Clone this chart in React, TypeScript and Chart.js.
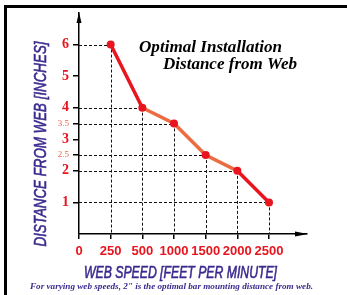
import React, { useEffect, useRef } from "react";
import { Chart, registerables } from "chart.js";

Chart.register(...registerables);

const speedLabels = ["0", "250", "500", "1000", "1500", "2000", "2500"];
const distances: (number | null)[] = [null, 6, 4, 3.5, 2.5, 2, 1];
const yTickValues = [1, 2, 2.5, 3, 3.5, 4, 5, 6];
const minorTicks = [2.5, 3.5];

const RED = "#e8141e";
const ORANGE = "#ec6c42";
const LIGHT_RED = "#f0604c";
const INDIGO = "#3a2a8e";

function fitText(
  ctx: CanvasRenderingContext2D,
  text: string,
  x: number,
  y: number,
  width: number,
  font: string,
  align: "left" | "center",
  strokeW = 0
) {
  ctx.save();
  ctx.font = font;
  const w = ctx.measureText(text).width;
  const sx = width / w;
  ctx.translate(x, y);
  ctx.scale(sx, 1);
  ctx.textAlign = align;
  ctx.fillText(text, 0, 0);
  if (strokeW > 0) {
    ctx.strokeStyle = ctx.fillStyle as string;
    ctx.lineWidth = strokeW;
    ctx.strokeText(text, 0, 0);
  }
  ctx.restore();
}

const decorPlugin = {
  id: "decor",
  beforeDatasetsDraw(chart: any) {
    const { ctx, scales } = chart;
    const xs = scales.x;
    const ys = scales.y;
    const x0 = xs.getPixelForValue(0);
    const y0 = ys.getPixelForValue(0);
    ctx.save();
    ctx.strokeStyle = "#111";
    ctx.lineWidth = 1;
    ctx.setLineDash([3, 2]);
    distances.forEach((d, i) => {
      if (d === null) return;
      const px = xs.getPixelForValue(i);
      const py = ys.getPixelForValue(d);
      ctx.beginPath();
      ctx.moveTo(x0, Math.round(py) + 0.5);
      ctx.lineTo(px, Math.round(py) + 0.5);
      ctx.stroke();
      ctx.beginPath();
      ctx.moveTo(Math.round(px) + 0.5, py);
      ctx.lineTo(Math.round(px) + 0.5, y0);
      ctx.stroke();
    });
    ctx.restore();
  },
  afterDraw(chart: any) {
    const { ctx, chartArea } = chart;
    const { left, top, right, bottom } = chartArea;
    ctx.save();
    ctx.fillStyle = "#000";
    // arrowheads
    ctx.beginPath();
    ctx.moveTo(left, top - 1);
    ctx.lineTo(left - 2.5, top + 10);
    ctx.lineTo(left + 2.5, top + 10);
    ctx.closePath();
    ctx.fill();
    ctx.beginPath();
    ctx.moveTo(right + 1, bottom);
    ctx.lineTo(right - 12, bottom - 2.5);
    ctx.lineTo(right - 12, bottom + 2.5);
    ctx.closePath();
    ctx.fill();
    // frame
    ctx.fillRect(4, 5, 343, 3);
    ctx.fillRect(4, 5, 3, 290);
    // title
    ctx.fillStyle = "#000";
    ctx.textBaseline = "alphabetic";
    fitText(ctx, "Optimal Installation", 139, 52, 143, "italic bold 16px 'Liberation Serif'", "left");
    fitText(ctx, "Distance from Web", 163, 69, 134, "italic bold 16px 'Liberation Serif'", "left");
    // axis titles
    ctx.fillStyle = INDIGO;
    fitText(ctx, "WEB SPEED [FEET PER MINUTE]", 180.5, 278, 193, "italic 16px 'Liberation Sans'", "center", 0.6);
    fitText(ctx, "For varying web speeds, 2\" is the optimal bar mounting distance from web.", 171.5, 289, 283, "italic bold 8.5px 'Liberation Serif'", "center");
    ctx.save();
    ctx.translate(46, 144);
    ctx.rotate(-Math.PI / 2);
    fitText(ctx, "DISTANCE FROM WEB [INCHES]", 0, 0, 205, "italic 17px 'Liberation Sans'", "center", 0.6);
    ctx.restore();
    ctx.restore();
  },
};

export default function App() {
  const ref = useRef<HTMLCanvasElement>(null);
  useEffect(() => {
    if (!ref.current) return;
    const points = distances
      .map((d, i) => (d === null ? null : { x: i, y: d }))
      .filter((p) => p !== null) as { x: number; y: number }[];
    const chart = new Chart(ref.current, {
      type: "line",
      data: {
        datasets: [
          {
            data: points,
            borderWidth: 3.5,
            borderColor: RED,
            backgroundColor: RED,
            pointBackgroundColor: RED,
            pointBorderColor: RED,
            pointRadius: 4,
            pointBorderWidth: 0,
            segment: {
              borderColor: (c: any) => (c.p0DataIndex === 0 || c.p0DataIndex === 4 ? RED : ORANGE),
            },
          },
        ],
      },
      options: {
        responsive: false,
        animation: false,
        layout: { padding: { left: 0, right: 40, top: 13, bottom: 0 } },
        plugins: { legend: { display: false }, tooltip: { enabled: false }, title: { display: false } },
        scales: {
          x: {
            type: "linear",
            min: 0,
            max: 7.2,
            afterBuildTicks: (s: any) => {
              s.ticks = speedLabels.map((_, i) => ({ value: i }));
            },
            afterFit: (s: any) => {
              s.height = 61;
            },
            grid: { drawOnChartArea: false, drawTicks: true, tickLength: 5, color: "#000", lineWidth: 1.5 },
            border: { display: true, color: "#000", width: 1.5 },
            ticks: {
              autoSkip: false,
              maxRotation: 0,
              padding: 5,
              color: RED,
              font: { family: "'Liberation Sans'", size: 13, weight: "bold" },
              callback: (v: any) => speedLabels[v] ?? "",
            },
          },
          y: {
            type: "linear",
            min: 0,
            max: 7,
            afterBuildTicks: (s: any) => {
              s.ticks = yTickValues.map((v) => ({ value: v }));
            },
            afterFit: (s: any) => {
              s.width = 79;
            },
            grid: { drawOnChartArea: false, drawTicks: true, tickLength: 6, color: "#000", lineWidth: 1.5 },
            border: { display: true, color: "#000", width: 1.5 },
            ticks: {
              autoSkip: false,
              padding: 4,
              color: (c: any) => (minorTicks.includes(c.tick?.value) ? LIGHT_RED : RED),
              font: (c: any) =>
                minorTicks.includes(c.tick?.value)
                  ? { family: "'Liberation Serif'", size: 9, weight: "normal" }
                  : { family: "'Liberation Serif'", size: 14, weight: "bold" },
              callback: (v: any) => String(v),
            },
          },
        },
      },
      plugins: [decorPlugin],
    } as any);
    return () => chart.destroy();
  }, []);
  return (
    <div style={{ position: "fixed", left: 0, top: 0, width: 347, height: 295, background: "#fff" }}>
      <canvas ref={ref} width={347} height={295} style={{ display: "block" }} />
    </div>
  );
}
